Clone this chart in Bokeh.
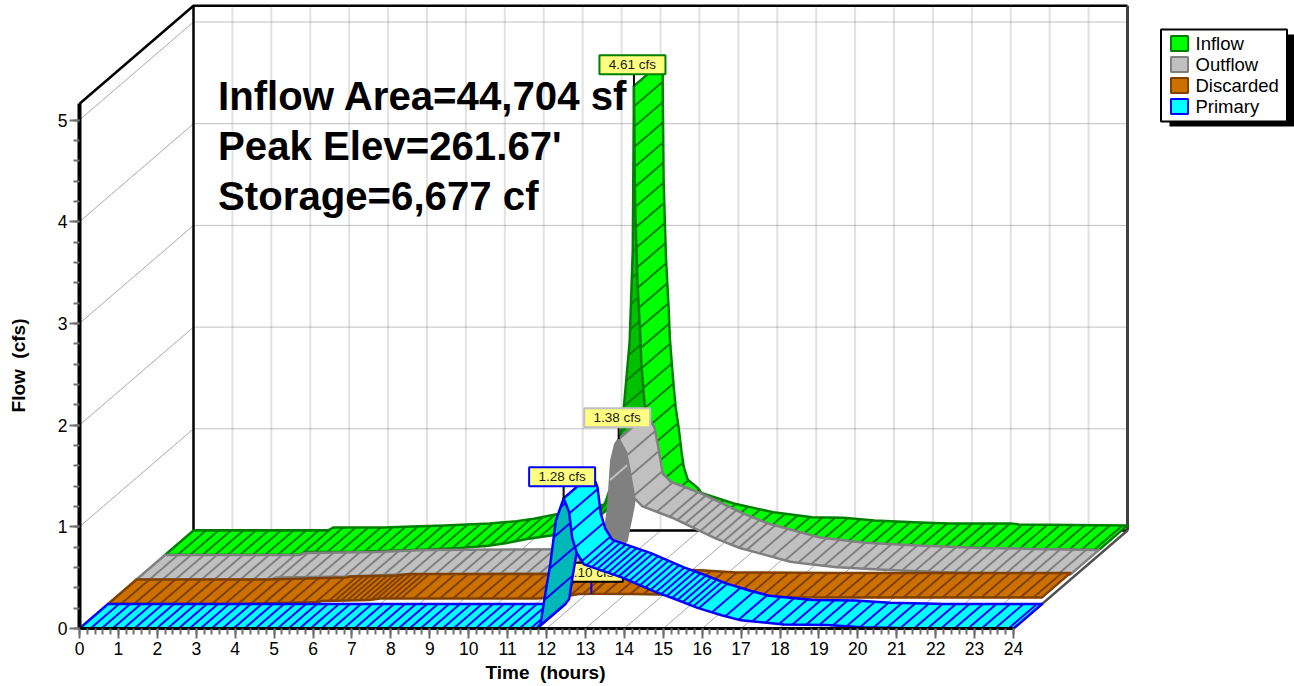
import numpy as np
from bokeh.embed import file_html
from bokeh.resources import INLINE
from bokeh.plotting import figure
from bokeh.models import FixedTicker, Range1d, LinearAxis
from bokeh.core.properties import value

# ---- data -----------------------------------------------------------------
INFLOW_T = [0, 3.45, 3.6, 4.9, 5.6, 6.45, 7.6, 8.3, 8.75, 9.3, 10.05, 10.64, 11.0, 11.3, 11.5, 11.7, 11.79,
            11.94, 12.02, 12.05, 12.08, 12.14, 12.21, 12.24, 12.29, 12.34, 12.39, 12.47, 12.54, 12.6, 12.7, 12.95,
            13.05, 13.88, 14.9, 15.9, 16.7, 17.5, 18.5, 19.4, 21.0, 21.2, 24]
INFLOW_Q = [0, 0, 0.03, 0.03, 0.04, 0.05, 0.07, 0.09, 0.115, 0.157, 0.2, 0.265, 0.33, 0.5, 0.72, 1.15, 1.45,
            2.1, 3.0, 4.61, 3.44, 2.68, 2.18, 1.89, 1.64, 1.41, 1.21, 1.0, 0.77, 0.62, 0.5, 0.42,
            0.37, 0.265, 0.18, 0.13, 0.125, 0.098, 0.08, 0.07, 0.07, 0.06, 0.05]
OUTFLOW_T = [0, 3.45, 3.6, 5.4, 6.7, 9.0, 11.4, 11.7, 11.86, 12.04, 12.12, 12.2, 12.3, 12.39, 12.58, 12.68, 12.79,
             13.0, 13.75, 14.85, 15.5, 16.8, 17.1, 18.0, 19.2, 20.9, 22.3, 24]
OUTFLOW_Q = [0, 0, 0.02, 0.03, 0.05, 0.055, 0.06, 0.07, 0.14, 0.48, 0.71, 1.17, 1.33, 1.38, 1.25, 1.05, 0.8,
             0.72, 0.61, 0.41, 0.31, 0.175, 0.16, 0.12, 0.095, 0.07, 0.06, 0.05]
DISCARDED_T = [0, 3.4, 5.4, 5.5, 6.7, 7.0, 11.0, 11.7, 12.1, 12.42, 13.5, 14.5, 15.4, 18.0, 24]
DISCARDED_Q = [0, 0, 0.02, 0.03, 0.04, 0.055, 0.055, 0.07, 0.098, 0.10, 0.099, 0.09, 0.07, 0.065, 0.065]
PRIMARY_T = [0, 11.75, 11.85, 11.93, 12.1, 12.24, 12.44, 12.58, 12.66, 12.78, 12.96, 13.95, 14.8, 15.3, 15.9, 16.5,
             17.0, 18.1, 19.2, 20.1, 21.0, 21.5, 24]
PRIMARY_Q = [0, 0, 0.05, 0.25, 0.64, 1.06, 1.28, 1.145, 0.89, 0.74, 0.63, 0.5, 0.36, 0.29, 0.2, 0.13,
             0.08, 0.04, 0.035, 0.012, 0.005, 0, 0]
NAMES = ["Inflow", "Outflow", "Discarded", "Primary"]
PEAK_TEXT = ["4.61 cfs", "1.38 cfs", "0.10 cfs", "1.28 cfs"]
NOTES = ["Inflow Area=44,704 sf", "Peak Elev=261.67'", "Storage=6,677 cf"]
X_TICKS = list(range(25))
Y_TICKS = [0, 1, 2, 3, 4, 5]
X_LABEL = "Time\u00a0\u00a0(hours)"
Y_LABEL = "Flow\u00a0\u00a0(cfs)"

# ---- styles ---------------------------------------------------------------
FONT = value("Liberation Sans")
FILL = ["#00FF00", "#C0C0C0", "#CC7000", "#00FFFF"]
SHADE = ["#00C000", "#808080", "#A05800", "#00B8B8"]
EDGE = ["#008000", "#808080", "#804000", "#0000FF"]
SHADE_HATCH = ["#008000", "#C0C0C0", "#804000", "#0000FF"]
BOX_EDGE = ["#008000", "#C0C0C0", "#000000", "#0000FF"]
STEM = ["#000000", "#000000", "#0000FF", "#000000"]
DEPTH = [0.75, 0.5, 0.25, 0.0]          # front edge of each ribbon, share of the floor depth
RIBBON = 0.25
HATCH_STEP = [[(0, 12.5)],
              [(0, 13), (13.5, 8), (15.5, 13)],
              [(0, 13), (5.4, 6), (7.4, 13)],
              [(0, 11), (12.9, 5.5), (15.9, 13.5)]]
SHADE_STEP = [[(0, 16)], [(0, 62)], [(0, 13)], [(0, 20)]]

PX_X = 38.917
PX_Y = 101.7
LEFT, FLOOR, W, H = 79, 628, 1294, 686
DX = 114 / PX_X
DY = 98 / PX_Y
TOP = 5.16


def px(xp, yp):
    return (xp - LEFT) / PX_X, (FLOOR - yp) / PX_Y


p = figure(width=W, height=H, output_backend="svg", toolbar_location=None,
           x_range=Range1d(-LEFT / PX_X, (W - LEFT) / PX_X), y_range=Range1d((FLOOR - H) / PX_Y, FLOOR / PX_Y),
           x_axis_location=None, y_axis_location=None,
           min_border_left=0, min_border_right=0, min_border_top=0, min_border_bottom=0,
           background_fill_color="white", border_fill_color="white", outline_line_color=None)
p.grid.visible = False

xaxis = LinearAxis(fixed_location=0, bounds=(0, 24),
                   ticker=FixedTicker(ticks=X_TICKS, minor_ticks=list(np.arange(0, 24.01, 0.2))))
yaxis = LinearAxis(fixed_location=0, bounds=(0, TOP),
                   ticker=FixedTicker(ticks=Y_TICKS, minor_ticks=list(np.arange(0, 5.01, 0.2))))
for ax, w in ((xaxis, 3), (yaxis, 4)):
    ax.axis_line_color = "black"
    ax.axis_line_width = w
    ax.major_tick_line_color = "#707070"
    ax.minor_tick_line_color = "#707070"
    ax.major_tick_line_width = 2
    ax.minor_tick_line_width = 2
    ax.major_tick_in = 0
    ax.minor_tick_in = 0
    ax.major_tick_out = 10
    ax.minor_tick_out = 6
    ax.major_label_text_font = "Liberation Sans"
    ax.major_label_text_font_size = "17.5px"
    ax.major_label_text_color = "black"
xaxis.major_label_standoff = 3
yaxis.major_label_standoff = 2
p.add_layout(xaxis, "below")
p.add_layout(yaxis, "left")

xl = px(545, 672)
yl = px(18, 365)
p.text([xl[0]], [xl[1]], text=[X_LABEL], text_font=FONT, text_font_size="19px", text_font_style="bold",
       text_color="black", text_align="center", text_baseline="middle")
p.text([yl[0]], [yl[1]], text=[Y_LABEL], angle=np.pi / 2, text_font=FONT, text_font_size="19px",
       text_font_style="bold", text_color="black", text_align="center", text_baseline="middle")

# ---- walls and floor --------------------------------------------------------
floor_x = [[t, t + DX] for t in X_TICKS]
floor_y = [[0, DY] for _ in X_TICKS]
p.multi_line(floor_x, floor_y, line_color="#A8A8A8", line_width=1)
side_x = [[0, DX] for q in Y_TICKS[1:]]
side_y = [[q, q + DY] for q in Y_TICKS[1:]]
p.multi_line(side_x, side_y, line_color="#A8A8A8", line_width=1)
p.multi_line([[t + DX, t + DX] for t in X_TICKS[1:-1]], [[DY, TOP + DY] for _ in X_TICKS[1:-1]],
             line_color="#C4C4C4", line_width=2, line_dash="1 1")
p.multi_line([[DX, 24 + DX] for q in Y_TICKS[1:]], [[q + DY, q + DY] for q in Y_TICKS[1:]],
             line_color="#808080", line_width=1, line_dash="1 1")
p.line([0, DX, 24 + DX], [TOP, TOP + DY, TOP + DY], line_color="black", line_width=2.5)
p.line([DX, DX, 24 + DX], [TOP + DY, DY, DY], line_color="black", line_width=2.5)
p.line([24 + DX, 24 + DX], [TOP + DY, DY], line_color="#404040", line_width=3)
p.line([24, 24 + DX], [0, DY], line_color="#505050", line_width=2.5)


# ---- ribbons ----------------------------------------------------------------
def step_at(table, t):
    s = table[0][1]
    for t0, v in table:
        if t >= t0:
            s = v
    return s


def hatch_times(t, q, table):
    ts = []
    left = step_at(table, t[0])
    for i in range(len(t) - 1):
        dx = (t[i + 1] - t[i]) * PX_X
        dy = (q[i + 1] - q[i]) * PX_Y * 0.62
        seg = float(np.hypot(dx, dy))
        pos = left
        while pos < seg:
            ts.append((t[i] + (t[i + 1] - t[i]) * pos / seg))
            pos += step_at(table, ts[-1])
        left = pos - seg
    return ts


def ribbon(t, q, i, name):
    t = np.array(t, float)
    q = np.array(q, float)
    d0, d1 = DEPTH[i], DEPTH[i] + RIBBON
    peak = int(np.argmax(q))
    rise = peak
    while rise > 0 and (q[rise] - q[rise - 1]) / (t[rise] - t[rise - 1]) > 0.4:
        rise -= 1
    chunks = [(0, rise, FILL[i], EDGE[i], HATCH_STEP[i]),
              (rise, peak, SHADE[i], SHADE_HATCH[i], SHADE_STEP[i]),
              (peak, len(t) - 1, FILL[i], EDGE[i], HATCH_STEP[i])]
    for a, b, fill, hatch, table in chunks:
        if b <= a:
            continue
        tt, qq = t[a:b + 1], q[a:b + 1]
        xs = np.r_[tt + d0 * DX, (tt + d1 * DX)[::-1]]
        ys = np.r_[qq + d0 * DY, (qq + d1 * DY)[::-1]]
        p.patch(xs, ys, fill_color=fill, line_color=EDGE[i], line_width=2.5, line_join="round", name=name)
        hts = hatch_times(tt, qq, table)
        hqs = np.interp(hts, t, q)
        p.multi_line([[h + d0 * DX, h + d1 * DX] for h in hts],
                     [[v + d0 * DY, v + d1 * DY] for v in hqs],
                     line_color=hatch, line_width=2)
    # peak flag
    xp = t[peak] + d0 * DX
    yp = q[peak] + d0 * DY
    p.line([xp, xp], [yp, yp + 21 / PX_Y], line_color=STEM[i], line_width=2)
    bx, by = xp - 1.5 / PX_X, yp + 21.5 / PX_Y
    p.rect([bx], [by], width=66, height=19, width_units="screen", height_units="screen",
           fill_color="#FFFF80", line_color=BOX_EDGE[i], line_width=2)
    p.text([bx], [by], text=[PEAK_TEXT[i]], text_font=FONT, text_font_size="13.5px", text_color="#202020",
           text_align="center", text_baseline="middle")


ribbon(INFLOW_T, INFLOW_Q, 0, NAMES[0])
ribbon(OUTFLOW_T, OUTFLOW_Q, 1, NAMES[1])
ribbon(DISCARDED_T, DISCARDED_Q, 2, NAMES[2])
ribbon(PRIMARY_T, PRIMARY_Q, 3, NAMES[3])

# ---- big note --------------------------------------------------------------
nx, ny = zip(*[px(217.5, yy) for yy in (96, 146, 196)])
p.text(list(nx), list(ny), text=NOTES, text_font=FONT, text_font_size="40.2px", text_font_style="bold",
       text_color="black", text_align="left", text_baseline="middle")

# ---- legend ----------------------------------------------------------------
lx0, ly0 = px(1223.5, 75)
p.rect([px(1231.5, 0)[0]], [px(0, 80)[1]], width=125, height=92, width_units="screen", height_units="screen",
       fill_color="black", line_color=None)
p.rect([lx0], [ly0], width=126, height=92, width_units="screen", height_units="screen",
       fill_color="white", line_color="black", line_width=2)
rows = [43, 64, 85, 106]
sw = [px(1179, r) for r in rows]
p.rect([a for a, _ in sw], [b for _, b in sw], width=17, height=15, width_units="screen", height_units="screen",
       fill_color=FILL, line_color=["#008000", "#808080", "#804000", "#0000FF"], line_width=2)
tx = [px(1195, r) for r in rows]
p.text([a for a, _ in tx], [b for _, b in tx], text=NAMES, text_font=FONT, text_font_size="18.5px",
       text_color="black", text_align="left", text_baseline="middle")

open("out.html", "w").write(file_html(p, INLINE))
